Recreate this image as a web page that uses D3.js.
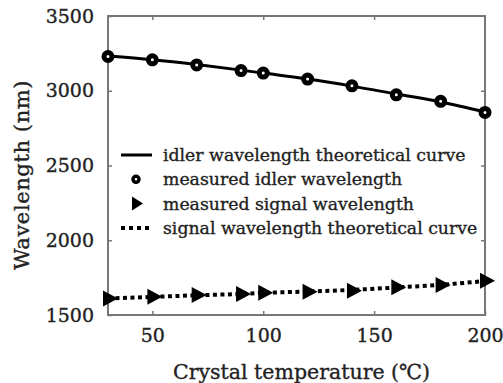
<!DOCTYPE html>
<html>
<head>
<meta charset="utf-8">
<script src="https://cdn.jsdelivr.net/npm/d3@7"></script>
<style>
  body { margin: 0; background: #fff; }
  text { font-family: "DejaVu Serif", "Liberation Serif", serif; fill: #222; stroke: #222; stroke-width: 0.35px; }
</style>
</head>
<body>
<div id="viz"></div>
<script>
// data
var temps = [30, 50, 70, 90, 100, 120, 140, 160, 180, 200];
var idlerMeasured = [3229, 3207, 3173, 3135, 3118, 3078, 3033, 2973, 2929, 2855];
var signalMeasured = [1611, 1622, 1633, 1640, 1649, 1655, 1662, 1685, 1700, 1729];
var idlerTheory = [3232, 3207, 3175, 3138, 3118, 3078, 3031, 2978, 2925, 2858];
var signalTheory = [1611, 1621, 1632, 1641, 1648, 1657, 1668, 1684, 1702, 1727];
var xTicks = [50, 100, 150, 200];
var yTicks = [1500, 2000, 2500, 3000, 3500];
var legendLabels = [
  "idler wavelength theoretical curve",
  "measured idler wavelength",
  "measured signal wavelength",
  "signal wavelength theoretical curve"
];

var W = 503, H = 383;
var margin = { top: 16, right: 18, bottom: 68, left: 108 };
var width = W - margin.left - margin.right,
  height = H - margin.top - margin.bottom;

var svg = d3.select("#viz").append("svg")
  .attr("width", W).attr("height", H);
var g = svg.append("g")
  .attr("transform", "translate(" + margin.left + "," + margin.top + ")");

var x = d3.scaleLinear().domain([30, 200]).range([0, width]);
var y = d3.scaleLinear().domain([1500, 3500]).range([height, 0]);

var axisColor = "#777";

// frame
g.append("rect")
  .attr("x", 0).attr("y", 0)
  .attr("width", width).attr("height", height)
  .attr("fill", "none").attr("stroke", axisColor).attr("stroke-width", 2);

// axes with inward ticks
function styleAxis(sel) {
  sel.select(".domain").remove();
  sel.selectAll(".tick line").attr("stroke", axisColor).attr("stroke-width", 1.5);
  sel.selectAll("text").attr("fill", "#222");
}

var xAxis = g.append("g")
  .attr("transform", "translate(0," + height + ")")
  .call(d3.axisBottom(x).tickValues(xTicks).tickFormat(d3.format("d"))
    .tickSizeInner(-4).tickSizeOuter(0).tickPadding(14));
styleAxis(xAxis);
xAxis.selectAll("text").style("font-size", "19px");

var xTop = g.append("g")
  .call(d3.axisTop(x).tickValues(xTicks.slice(0, 3)).tickSizeInner(-4).tickSizeOuter(0).tickFormat(""));
styleAxis(xTop);

var yAxis = g.append("g")
  .call(d3.axisLeft(y).tickValues(yTicks).tickFormat(d3.format("d"))
    .tickSizeInner(-4).tickSizeOuter(0).tickPadding(14));
styleAxis(yAxis);
yAxis.selectAll("text").style("font-size", "19px");

var yRight = g.append("g")
  .attr("transform", "translate(" + width + ",0)")
  .call(d3.axisRight(y).tickValues(yTicks.slice(1, 4)).tickSizeInner(-4).tickSizeOuter(0).tickFormat(""));
styleAxis(yRight);

// axis titles
svg.append("text")
  .attr("x", margin.left + width / 2 + 5)
  .attr("y", 379)
  .attr("text-anchor", "middle")
  .style("font-size", "20.5px")
  .text("Crystal temperature (℃)");

svg.append("text")
  .attr("transform", "translate(29,175) rotate(-90)")
  .attr("text-anchor", "middle")
  .style("font-size", "21px")
  .style("letter-spacing", "0.6px")
  .text("Wavelength (nm)");

// lines
var idlerRows = temps.map(function (t, i) { return { t: t, v: idlerTheory[i] }; });
var signalRows = temps.map(function (t, i) { return { t: t, v: signalTheory[i] }; });

var line = d3.line()
  .x(function (d) { return x(d.t); })
  .y(function (d) { return y(d.v); })
  .curve(d3.curveMonotoneX);

g.append("path").datum(idlerRows)
  .attr("d", line)
  .attr("fill", "none").attr("stroke", "#000").attr("stroke-width", 3);

g.append("path").datum(signalRows)
  .attr("d", line)
  .attr("fill", "none").attr("stroke", "#000").attr("stroke-width", 4)
  .attr("stroke-dasharray", "4,3.5");

// measured points
var triPath = "M-5,-8L10,0L-5,8Z";

g.selectAll(".idler").data(temps).enter().append("circle")
  .attr("class", "idler")
  .attr("cx", function (d) { return x(d); })
  .attr("cy", function (d, i) { return y(idlerMeasured[i]); })
  .attr("r", 4)
  .attr("fill", "#fff").attr("stroke", "#000").attr("stroke-width", 5);

g.selectAll(".signal").data(temps).enter().append("path")
  .attr("class", "signal")
  .attr("d", triPath)
  .attr("transform", function (d, i) {
    return "translate(" + x(d) + "," + y(signalMeasured[i]) + ")";
  })
  .attr("fill", "#000");

// legend
var legend = svg.append("g").attr("transform", "translate(121,155)");
var rowH = 24.3;
legendLabels.forEach(function (label, i) {
  var row = legend.append("g").attr("transform", "translate(0," + i * rowH + ")");
  if (i === 0) {
    row.append("line").attr("x1", 0).attr("x2", 31).attr("y1", 0).attr("y2", 0)
      .attr("stroke", "#000").attr("stroke-width", 3);
  } else if (i === 1) {
    row.append("circle").attr("cx", 15).attr("cy", 0).attr("r", 3)
      .attr("fill", "#fff").attr("stroke", "#000").attr("stroke-width", 3.5);
  } else if (i === 2) {
    row.append("path").attr("d", "M-4,-7L7,0L-4,7Z")
      .attr("transform", "translate(15,0)").attr("fill", "#000");
  } else {
    row.append("line").attr("x1", 0).attr("x2", 30).attr("y1", 0).attr("y2", 0)
      .attr("stroke", "#000").attr("stroke-width", 4)
      .attr("stroke-dasharray", "4,4");
  }
  row.append("text")
    .attr("x", 42).attr("y", 0).attr("dy", "0.35em")
    .style("font-size", "17.3px")
    .text(label);
});
</script>
</body>
</html>
